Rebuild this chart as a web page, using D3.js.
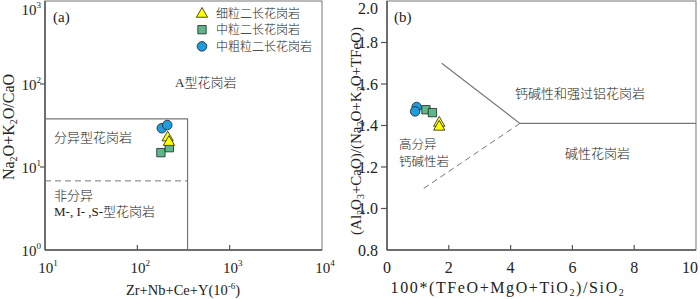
<!DOCTYPE html>
<html lang="zh">
<head>
<meta charset="utf-8">
<title>Granite discrimination</title>
<script src="https://cdn.jsdelivr.net/npm/d3@7"></script>
<style>
  body { margin: 0; background: white; }
  text { font-family: "Liberation Serif", "Noto Sans CJK SC", serif; fill: #222; }
  .cn { font-family: "Noto Sans CJK SC", sans-serif; font-weight: 300; }
</style>
</head>
<body>
<div id="container"></div>
<script>
// ---- data ----
const seriesNames = ["细粒二长花岗岩", "中粒二长花岗岩", "中粗粒二长花岗岩"];
const seriesColors = ["#ffff00", "#5cb888", "#1e9ddc"];

// panel (a): Zr+Nb+Ce+Y vs Na2O+K2O/CaO
const aFine = [[213, 23.2], [220, 20.5]];
const aMedium = [[180, 14.9], [222, 17.1]];
const aCoarse = [[184, 29.3], [211, 32]];
const aTicksX = [10, 100, 1000, 10000];
const aTicksY = [1, 10, 100, 1000];
const aBoxX = 350, aBoxY = 38, aDashY = 6.8;

// panel (b): 100*(TFeO+MgO+TiO2)/SiO2 vs (Al2O3+CaO)/(Na2O+K2O+TFeO)
const bFine = [[1.69, 1.417], [1.69, 1.398]];
const bMedium = [[1.26, 1.476], [1.47, 1.462]];
const bCoarse = [[0.96, 1.489], [0.91, 1.468]];
const bTicksX = [0, 2, 4, 6, 8, 10];
const bTicksY = [0.8, 1.0, 1.2, 1.4, 1.6, 1.8, 2.0];
const bSolid = [[1.77, 1.70], [4.30, 1.41], [10, 1.41]];
const bDash = [[4.30, 1.41], [1.12, 1.09]];

const W = 700, H = 299;
const svg = d3.select("#container").append("svg").attr("width", W).attr("height", H);

const axisColor = "#555";
const lineColor = "#777";

function drawSymbol(g, pts, kind, x, y) {
  const sym = kind === 0 ? d3.symbolTriangle : kind === 1 ? d3.symbolSquare : d3.symbolCircle;
  const size = kind === 0 ? 55 : kind === 1 ? 70 : 72;
  g.selectAll(null).data(pts).enter().append("path")
    .attr("d", d3.symbol().type(sym).size(size))
    .attr("transform", d => `translate(${x(d[0])},${y(d[1]) + (kind === 0 ? 1 : 0)})`)
    .attr("fill", seriesColors[kind])
    .attr("stroke", "#222").attr("stroke-width", 0.8);
}

function frame(x, y) {
  const [x0, x1] = x.range(), [y0, y1] = y.range();
  svg.append("rect").attr("x", x0).attr("y", y1).attr("width", x1 - x0).attr("height", y0 - y1)
    .attr("fill", "none").attr("stroke", lineColor).attr("stroke-width", 1);
  svg.append("line").attr("x1", x0).attr("x2", x1).attr("y1", y0).attr("y2", y0)
    .attr("stroke", axisColor).attr("stroke-width", 1.5);
  svg.append("line").attr("x1", x0).attr("x2", x0).attr("y1", y0).attr("y2", y1)
    .attr("stroke", axisColor).attr("stroke-width", 1.5);
}

// ---------- panel (a) ----------
const xa = d3.scaleLog().domain([10, 10000]).range([45, 322]);
const ya = d3.scaleLog().domain([1, 1000]).range([250, 1]);

frame(xa, ya);

// ticks
svg.selectAll(null).data(aTicksX.slice(1, -1)).enter().append("line")
  .attr("x1", d => xa(d)).attr("x2", d => xa(d)).attr("y1", 250).attr("y2", 245)
  .attr("stroke", axisColor).attr("stroke-width", 1.2);
svg.selectAll(null).data(aTicksY.slice(1, -1)).enter().append("line")
  .attr("x1", 40).attr("x2", 45).attr("y1", d => ya(d)).attr("y2", d => ya(d))
  .attr("stroke", axisColor).attr("stroke-width", 1.2);

function powLabel(t, d) {
  t.append("tspan").text("10");
  t.append("tspan").attr("dy", -7).style("font-size", "9px").text(Math.round(Math.log10(d)));
}
svg.selectAll(null).data(aTicksX).enter().append("text")
  .attr("x", d => xa(d) + 3).attr("y", 273).attr("text-anchor", "middle")
  .style("font-size", "15px")
  .each(function(d) { powLabel(d3.select(this), d); });
svg.selectAll(null).data(aTicksY).enter().append("text")
  .attr("x", 41).attr("y", d => Math.max(ya(d) + 6, 15)).attr("text-anchor", "end")
  .style("font-size", "15px")
  .each(function(d) { powLabel(d3.select(this), d); });

// field boundaries
svg.append("path")
  .attr("d", `M${xa(10)},${ya(aBoxY)} H${xa(aBoxX)} V${ya(1)}`)
  .attr("fill", "none").attr("stroke", lineColor).attr("stroke-width", 1.2);
svg.append("line")
  .attr("x1", xa(10)).attr("x2", xa(aBoxX)).attr("y1", ya(aDashY)).attr("y2", ya(aDashY))
  .attr("stroke", lineColor).attr("stroke-width", 1).attr("stroke-dasharray", "6,4");

// field labels
svg.append("text").attr("x", 53).attr("y", 22).style("font-size", "15px").text("(a)");
svg.append("text").attr("class", "cn").attr("x", 175).attr("y", 87).style("font-size", "13px")
  .html('<tspan style="font-family:Liberation Serif">A</tspan>型花岗岩');
svg.append("text").attr("class", "cn").attr("x", 54).attr("y", 142).style("font-size", "13px").text("分异型花岗岩");
svg.append("text").attr("class", "cn").attr("x", 54).attr("y", 200).style("font-size", "13px").text("非分异");
svg.append("text").attr("x", 54).attr("y", 216).style("font-size", "13px")
  .html('M-, I- ,S-<tspan class="cn">型花岗岩</tspan>');

// axis titles
svg.append("text").attr("x", 183).attr("y", 295).attr("text-anchor", "middle").style("font-size", "14.5px")
  .html('Zr+Nb+Ce+Y(10<tspan dy="-6" style="font-size:9px">-6</tspan><tspan dy="6">)</tspan>');
svg.append("text").attr("transform", "translate(14,127) rotate(-90)").attr("text-anchor", "middle")
  .style("font-size", "16px")
  .html('Na<tspan dy="3" style="font-size:10px">2</tspan><tspan dy="-3">O+K</tspan><tspan dy="3" style="font-size:10px">2</tspan><tspan dy="-3">O/CaO</tspan>');

const ga = svg.append("g");
drawSymbol(ga, aMedium, 1, xa, ya);
drawSymbol(ga, aFine, 0, xa, ya);
drawSymbol(ga, aCoarse, 2, xa, ya);

// legend
const legend = svg.append("g");
seriesNames.forEach((name, i) => {
  const cy = 13 + i * 16.7;
  legend.append("path")
    .attr("d", d3.symbol().type([d3.symbolTriangle, d3.symbolSquare, d3.symbolCircle][i]).size([55, 70, 72][i]))
    .attr("transform", `translate(202,${cy + (i === 0 ? 1 : 0)})`)
    .attr("fill", seriesColors[i]).attr("stroke", "#222").attr("stroke-width", 0.8);
  legend.append("text").attr("class", "cn").attr("x", 216).attr("y", cy + 4.5)
    .style("font-size", "12px").text(name);
});

// ---------- panel (b) ----------
const xb = d3.scaleLinear().domain([0, 10]).range([387, 696]);
const yb = d3.scaleLinear().domain([0.8, 2.0]).range([250, 1]);

frame(xb, yb);

svg.selectAll(null).data(bTicksX.slice(1, -1)).enter().append("line")
  .attr("x1", d => xb(d)).attr("x2", d => xb(d)).attr("y1", 250).attr("y2", 245)
  .attr("stroke", axisColor).attr("stroke-width", 1.2);
svg.selectAll(null).data(bTicksY.slice(1, -1)).enter().append("line")
  .attr("x1", 381).attr("x2", 387).attr("y1", d => yb(d)).attr("y2", d => yb(d))
  .attr("stroke", axisColor).attr("stroke-width", 1.2);

svg.selectAll(null).data(bTicksX).enter().append("text")
  .attr("x", d => Math.min(xb(d), 690)).attr("y", 273).attr("text-anchor", "middle")
  .style("font-size", "16px").text(d => d);
svg.selectAll(null).data(bTicksY).enter().append("text")
  .attr("x", 378).attr("y", d => Math.max(yb(d) + 5.5, 13.5)).attr("text-anchor", "end")
  .style("font-size", "16px").text(d => d.toFixed(1));

const line = d3.line().x(d => xb(d[0])).y(d => yb(d[1]));
svg.append("path").attr("d", line(bSolid)).attr("fill", "none")
  .attr("stroke", lineColor).attr("stroke-width", 1.2);
svg.append("path").attr("d", line(bDash)).attr("fill", "none")
  .attr("stroke", lineColor).attr("stroke-width", 1).attr("stroke-dasharray", "6,4");

svg.append("text").attr("x", 394).attr("y", 22).style("font-size", "15px").text("(b)");
svg.append("text").attr("class", "cn").attr("x", 515).attr("y", 98).style("font-size", "13px").text("钙碱性和强过铝花岗岩");
svg.append("text").attr("class", "cn").attr("x", 565).attr("y", 158).style("font-size", "13px").text("碱性花岗岩");
svg.append("text").attr("class", "cn").attr("x", 399).attr("y", 149).style("font-size", "12.5px").text("高分异");
svg.append("text").attr("class", "cn").attr("x", 399).attr("y", 166).style("font-size", "12.5px").text("钙碱性岩");

svg.append("text").attr("x", 508).attr("y", 293).attr("text-anchor", "middle").style("font-size", "16px")
  .style("letter-spacing", "1.6px")
  .html('100*(TFeO+MgO+TiO<tspan dy="2.5" style="font-size:10px">2</tspan><tspan dy="-2.5">)/SiO</tspan><tspan dy="2.5" style="font-size:10px">2</tspan>');
svg.append("text").attr("transform", "translate(361,131) rotate(-90)").attr("text-anchor", "middle")
  .style("font-size", "15px")
  .html('(Al<tspan dy="3" style="font-size:10px">2</tspan><tspan dy="-3">O</tspan><tspan dy="3" style="font-size:10px">3</tspan><tspan dy="-3">+CaO)/(Na</tspan><tspan dy="3" style="font-size:10px">2</tspan><tspan dy="-3">O+K</tspan><tspan dy="3" style="font-size:10px">2</tspan><tspan dy="-3">O+TFeO)</tspan>');

const gb = svg.append("g");
drawSymbol(gb, bFine, 0, xb, yb);
drawSymbol(gb, bMedium, 1, xb, yb);
drawSymbol(gb, bCoarse, 2, xb, yb);
</script>
</body>
</html>
